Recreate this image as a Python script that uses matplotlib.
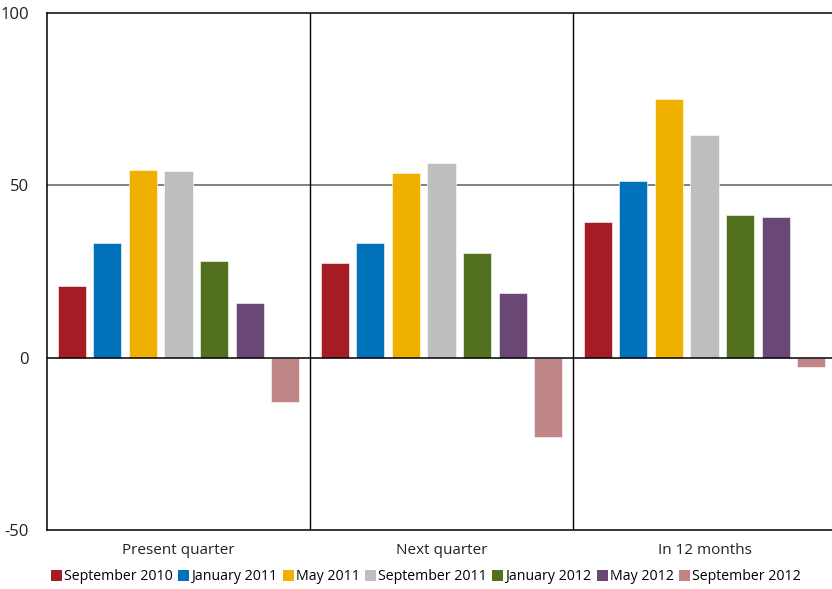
import numpy as np
import matplotlib.pyplot as plt
from matplotlib.patches import Patch

plt.rcParams['font.family'] = ['Open Sans', 'DejaVu Sans']

horizons = ['Present quarter', 'Next quarter', 'In 12 months']
surveys = ['September 2010', 'January 2011', 'May 2011', 'September 2011',
           'January 2012', 'May 2012', 'September 2012']
colors = ['#A51C24', '#0072BB', '#EFB000', '#BDBEC0',
          '#52701E', '#6A4876', '#C08687']

# balance per survey, one value per horizon
sep_2010 = [20.7, 27.4, 39.3]
jan_2011 = [33.2, 33.2, 51.2]
may_2011 = [54.4, 53.5, 75.0]
sep_2011 = [54.1, 56.4, 64.6]
jan_2012 = [28.0, 30.3, 41.3]
may_2012 = [15.8, 18.7, 40.8]
sep_2012 = [-12.9, -23.1, -2.6]
series = [sep_2010, jan_2011, may_2011, sep_2011, jan_2012, may_2012, sep_2012]

W, H = 832, 589
fig = plt.figure(figsize=(W / 100, H / 100), dpi=100)
ax = fig.add_axes([47 / W, (H - 530) / H, (836 - 47) / W, 517 / H])

x = np.arange(len(horizons))
step = 0.1354
for j, (vals, c) in enumerate(zip(series, colors)):
    ax.bar(x + (j - 3) * step, vals, width=0.1065, color=c,
           edgecolor='white', linewidth=0.4, zorder=2)

ax.set_xlim(-0.5, 2.5)
ax.set_ylim(-50, 100)
ax.set_yticks([-50, 0, 50, 100])
ax.set_yticklabels(['-50', '0', '50', '100'], fontsize=12, color='#222222')
ax.tick_params(axis='y', length=0, pad=13)
ax.set_xticks(x)
ax.set_xticklabels(horizons, fontsize=11, color='#222222')
ax.tick_params(axis='x', length=0, pad=9)

ax.axhline(50, color='#777777', lw=1.3, zorder=1)
ax.axhline(0, color='black', lw=1.1, zorder=3)
for b in [0.5, 1.5]:
    ax.axvline(b, color='black', lw=1.0, zorder=1)

for s in ['left', 'bottom', 'top']:
    ax.spines[s].set_linewidth(1.1)
ax.spines['right'].set_visible(False)

handles = [Patch(facecolor=c, label=s) for s, c in zip(surveys, colors)]
fig.legend(handles=handles, loc='center', bbox_to_anchor=(426 / W, 1 - 577 / H),
           ncol=7, frameon=False, fontsize=10.2, handlelength=0.75,
           handleheight=0.75, handletextpad=0.15, columnspacing=0.4,
           borderaxespad=0)

fig.savefig('out.png', dpi=100)
